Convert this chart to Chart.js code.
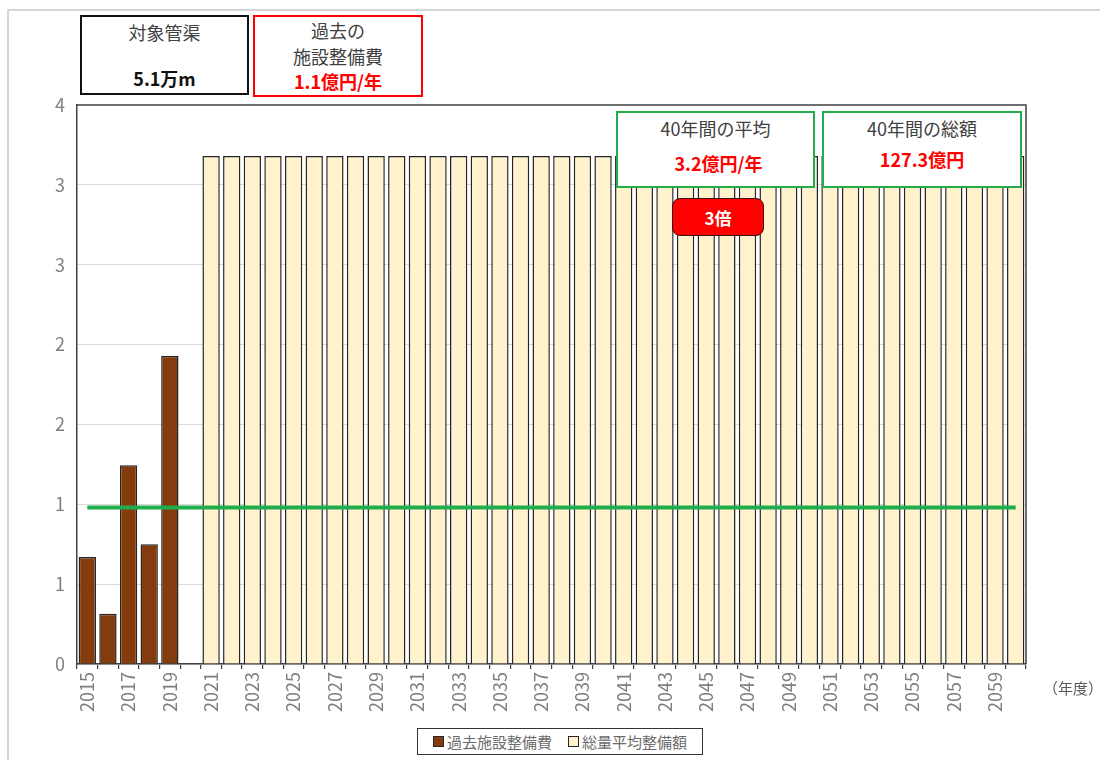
<!DOCTYPE html>
<html lang="ja">
<head>
<meta charset="utf-8">
<title>施設整備費の推移</title>
<script src="https://cdn.jsdelivr.net/npm/chart.js@4.4.1/dist/chart.umd.min.js"></script>
<style>
  html, body { margin: 0; padding: 0; background: #ffffff; }
  body { width: 1100px; height: 760px; position: relative; overflow: hidden;
         font-family: "Noto Sans CJK JP", "Noto Sans", sans-serif; }
  #frame { position: absolute; left: 7px; top: 9px; width: 1100px; height: 770px;
           border-left: 2px solid #d6d6d6; border-top: 2px solid #d6d6d6; }
  #wrap { position: absolute; left: 0; top: 0; width: 1100px; height: 760px; }
  .note { position: absolute; box-sizing: border-box; background: #ffffff;
          text-align: center; color: #404040; font-size: 18px; }
  .note .line { position: absolute; left: 0; right: 0; line-height: 1; }
  .red { color: #ff0000; font-weight: 700; }
  .bold { font-weight: 700; color: #111; }
  #ratio { position: absolute; left: 672px; top: 198px; width: 92px; height: 38px;
           box-sizing: border-box; background: #ff0000; border: 1.5px solid #3a1010;
           border-radius: 8px; color: #ffffff; font-weight: 700; font-size: 17px;
           display: flex; align-items: center; justify-content: center; }
  #unit { position: absolute; left: 1043px; top: 677px; font-size: 15px; color: #595959; }
  #legend { position: absolute; left: 417px; top: 728px; width: 286px; height: 27px;
            box-sizing: border-box; border: 1.5px solid #333; background: #fff;
            display: flex; align-items: center; justify-content: center; gap: 16px;
            font-size: 15px; color: #6b6b6b; }
  #legend .item { display: flex; align-items: center; gap: 3px; }
  #legend .swatch { width: 9px; height: 9px; border: 1px solid #262626; }
</style>
</head>
<body>
<div id="frame"></div>
<div id="wrap"><canvas id="chart" width="1100" height="760"></canvas></div>

<div class="note" style="left:80px; top:15px; width:169px; height:80px; border:2px solid #111;">
  <div class="line" style="top:6px;">対象管渠</div>
  <div class="line bold" style="top:52px;">5.1万m</div>
</div>
<div class="note" style="left:253px; top:15px; width:170px; height:82px; border:2px solid #ff0000;">
  <div class="line" style="top:4px;">過去の</div>
  <div class="line" style="top:30px;">施設整備費</div>
  <div class="line red" style="top:55px;">1.1億円/年</div>
</div>
<div class="note" style="left:616px; top:111px; width:199px; height:77px; border:2px solid #22ac4c;">
  <div class="line" style="top:6px;">40年間の平均</div>
  <div class="line red" style="top:41px; padding-left:6px;">3.2億円/年</div>
</div>
<div class="note" style="left:822px; top:111px; width:200px; height:77px; border:2px solid #22ac4c;">
  <div class="line" style="top:6px;">40年間の総額</div>
  <div class="line red" style="top:37px;">127.3億円</div>
</div>
<div id="ratio">3倍</div>
<div id="unit">（年度）</div>
<div id="legend"></div>

<script>
// 年度（カテゴリ）
const years = [
  '2015','2016','2017','2018','2019','2020','2021','2022','2023','2024',
  '2025','2026','2027','2028','2029','2030','2031','2032','2033','2034',
  '2035','2036','2037','2038','2039','2040','2041','2042','2043','2044',
  '2045','2046','2047','2048','2049','2050','2051','2052','2053','2054',
  '2055','2056','2057','2058','2059','2060'
];

// 過去施設整備費（億円）
const pastCost = [
  0.67, 0.315, 1.245, 0.75, 1.93, null, null, null, null, null,
  null, null, null, null, null, null, null, null, null, null,
  null, null, null, null, null, null, null, null, null, null,
  null, null, null, null, null, null, null, null, null, null,
  null, null, null, null, null, null
];

// 総量平均整備額（億円）
const plannedCost = [
  null, null, null, null, null, null, 3.18, 3.18, 3.18, 3.18,
  3.18, 3.18, 3.18, 3.18, 3.18, 3.18, 3.18, 3.18, 3.18, 3.18,
  3.18, 3.18, 3.18, 3.18, 3.18, 3.18, 3.18, 3.18, 3.18, 3.18,
  3.18, 3.18, 3.18, 3.18, 3.18, 3.18, 3.18, 3.18, 3.18, 3.18,
  3.18, 3.18, 3.18, 3.18, 3.18, 3.18
];

// 過去の平均水準
const pastAverage = [
  0.98, 0.98, 0.98, 0.98, 0.98, 0.98, 0.98, 0.98, 0.98, 0.98,
  0.98, 0.98, 0.98, 0.98, 0.98, 0.98, 0.98, 0.98, 0.98, 0.98,
  0.98, 0.98, 0.98, 0.98, 0.98, 0.98, 0.98, 0.98, 0.98, 0.98,
  0.98, 0.98, 0.98, 0.98, 0.98, 0.98, 0.98, 0.98, 0.98, 0.98,
  0.98, 0.98, 0.98, 0.98, 0.98, 0.98
];

// 縦軸の目盛（0.5刻み、表示は整数に丸め）
const yMin = 0, yMax = 3.5, yStep = 0.5;

const pastLabel = '過去施設整備費';
const plannedLabel = '総量平均整備額';
const pastColor = '#843c0c';
const plannedColor = '#fff2cc';
const edgeColor = '#262626';
const axisColor = '#404040';
const tickColor = '#7f7f7f';
const fontFamily = '"Noto Sans CJK JP", "Noto Sans", sans-serif';

// プロット領域の上辺と右辺の枠線
const frameLines = {
  id: 'frameLines',
  afterDatasetsDraw(chart) {
    const a = chart.chartArea, ctx = chart.ctx;
    ctx.save();
    ctx.strokeStyle = axisColor;
    ctx.lineWidth = 1.5;
    ctx.beginPath();
    ctx.moveTo(a.left, a.top);
    ctx.lineTo(a.right, a.top);
    ctx.lineTo(a.right, a.bottom);
    ctx.stroke();
    ctx.restore();
  }
};

new Chart(document.getElementById('chart'), {
  data: {
    labels: years,
    datasets: [
      {
        type: 'line', label: '平均', data: pastAverage, order: 0,
        borderColor: '#1fae4b', borderWidth: 4, pointRadius: 0, fill: false
      },
      {
        type: 'bar', label: pastLabel, data: pastCost, order: 1,
        backgroundColor: pastColor, borderColor: edgeColor, borderWidth: 1.5,
        barPercentage: 0.84, categoryPercentage: 1.0
      },
      {
        type: 'bar', label: plannedLabel, data: plannedCost, order: 2,
        backgroundColor: plannedColor, borderColor: edgeColor, borderWidth: 1.5,
        barPercentage: 0.84, categoryPercentage: 1.0
      }
    ]
  },
  options: {
    responsive: false,
    animation: false,
    layout: { padding: { left: 0, top: 105, right: 74, bottom: 41 } },
    plugins: {
      legend: { display: false },
      tooltip: { enabled: false }
    },
    scales: {
      x: {
        stacked: true,
        offset: true,
        afterFit(scale) { scale.height = 55; },
        grid: { offset: true, drawOnChartArea: false, drawTicks: true, tickLength: 5,
                color: axisColor, lineWidth: 1.2 },
        border: { display: true, color: axisColor, width: 1.5 },
        ticks: {
          autoSkip: false, minRotation: 90, maxRotation: 90, padding: 3,
          color: tickColor, font: { family: fontFamily, size: 18 },
          callback(value, index) { return index % 2 === 0 ? this.getLabelForValue(value) : ''; }
        }
      },
      y: {
        stacked: true,
        min: yMin, max: yMax,
        afterFit(scale) { scale.width = 77; },
        grid: {
          drawTicks: false,
          color(ctx) { return ctx.tick && ctx.tick.value >= yMax ? 'rgba(0,0,0,0)' : '#d9d9d9'; },
          lineWidth: 1
        },
        border: { display: true, color: axisColor, width: 1.5 },
        ticks: {
          stepSize: yStep, padding: 12,
          color: tickColor, font: { family: fontFamily, size: 18 },
          callback(value) { return String(Math.round(value)); }
        }
      }
    }
  },
  plugins: [frameLines]
});

// 凡例（棒グラフ系列のみ）
const legendBox = document.getElementById('legend');
[[pastLabel, pastColor], [plannedLabel, plannedColor]].forEach(([text, color]) => {
  const item = document.createElement('div');
  item.className = 'item';
  const sw = document.createElement('span');
  sw.className = 'swatch';
  sw.style.background = color;
  const tx = document.createElement('span');
  tx.textContent = text;
  item.appendChild(sw);
  item.appendChild(tx);
  legendBox.appendChild(item);
});
</script>
</body>
</html>
